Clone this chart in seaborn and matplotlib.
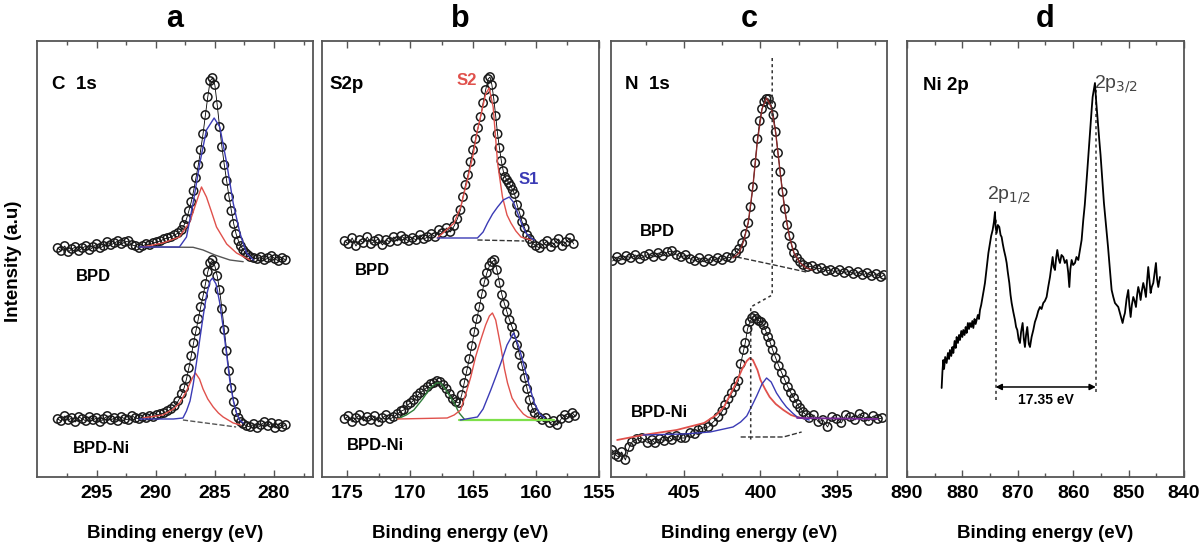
# XPS spectra of BPD and BPD-Ni: C 1s, S 2p, N 1s and Ni 2p regions

import numpy as np
import pandas as pd
import matplotlib.pyplot as plt
import seaborn as sns

sns.set_style("white")
plt.rcParams["font.family"] = ["Liberation Sans", "DejaVu Sans"]
plt.rcParams.update({"text.color": "black", "axes.labelcolor": "black",
                     "xtick.color": "black"})

RED = "#e0514c"
BLUE = "#3b3bb5"

# === Panel a: C 1s ===
a_bpd_ev = [298.3, 298.0, 297.7, 297.4, 297.1, 296.8, 296.5, 296.2, 295.9, 295.6, 295.3, 295.0,
            294.7, 294.4, 294.1, 293.8, 293.5, 293.2, 292.9, 292.6, 292.3, 292.0, 291.7, 291.4,
            291.1, 290.8, 290.5, 290.2, 289.9, 289.6, 289.3, 289.0, 288.7, 288.4, 288.1, 287.8,
            287.6, 287.4, 287.2, 287.0, 286.8, 286.6, 286.4, 286.2, 286.0, 285.8, 285.6, 285.4,
            285.2, 285.0, 284.8, 284.6, 284.4, 284.2, 284.0, 283.8, 283.6, 283.4, 283.2, 283.0,
            282.8, 282.6, 282.4, 282.2, 282.0, 281.7, 281.4, 281.1, 280.8, 280.5, 280.2, 279.9,
            279.6, 279.3, 279.0]
a_bpd_int = [229, 226, 231, 225, 228, 230, 226, 229, 231, 227, 230, 233,
             229, 231, 235, 232, 234, 236, 233, 235, 236, 232, 231, 229,
             231, 233, 232, 234, 235, 236, 238, 239, 240, 242, 244, 247,
             252, 258, 266, 275, 286, 299, 312, 327, 343, 362, 380, 396,
             399, 392, 372, 350, 330, 312, 296, 280, 266, 253, 243, 236,
             231, 227, 224, 222, 220, 219, 218, 220, 217, 219, 221, 218,
             216, 219, 217]
a_bpd_blue_ev = [291.4, 288.0, 287.4, 286.84, 286.27, 285.71, 285.06, 284.58, 284.0, 283.45,
                 282.88, 282.32, 281.75]
a_bpd_blue_int = [230, 230, 240, 274, 314, 347, 359, 350, 314, 274, 244, 224, 217]
a_bpd_red_ev = [291.1, 289.4, 288.0, 287.12, 286.56, 286.13, 285.71, 285.28, 284.86, 284.0,
                283.17, 282.04]
a_bpd_red_int = [230, 234, 240, 255, 275, 290, 280, 265, 250, 233, 224, 217]
a_bpd_bg_ev = [291.4, 286.84, 286.0, 285.0, 283.73, 282.6]
a_bpd_bg_int = [230, 229.7, 227, 222, 217, 215.3]

a_ni_ev = [298.3, 298.0, 297.7, 297.4, 297.1, 296.8, 296.5, 296.2, 295.9, 295.6, 295.3, 295.0,
           294.7, 294.4, 294.1, 293.8, 293.5, 293.2, 292.9, 292.6, 292.3, 292.0, 291.7, 291.4,
           291.1, 290.8, 290.5, 290.2, 289.9, 289.6, 289.3, 289.0, 288.7, 288.4, 288.1, 287.8,
           287.6, 287.4, 287.2, 287.0, 286.8, 286.6, 286.4, 286.2, 286.0, 285.8, 285.6, 285.4,
           285.2, 285.0, 284.8, 284.6, 284.4, 284.2, 284.0, 283.8, 283.6, 283.4, 283.2, 283.0,
           282.8, 282.6, 282.3, 282.0, 281.7, 281.4, 281.1, 280.8, 280.5, 280.2, 279.9, 279.6,
           279.3, 279.0]
a_ni_int = [58, 56, 61, 57, 59, 55, 60, 58, 56, 60, 57, 59,
            55, 58, 61, 57, 59, 56, 60, 58, 57, 61, 59, 58,
            60, 59, 61, 60, 62, 63, 64, 66, 68, 71, 76, 83,
            89, 98, 109, 121, 134, 146, 158, 170, 181, 193, 205, 214,
            217, 211, 201, 187, 168, 147, 126, 106, 89, 75, 65, 59,
            55, 53, 51, 50, 53, 49, 52, 55, 51, 54, 49, 53,
            50, 52]
a_ni_blue_ev = [291.4, 288.5, 287.7, 287.4, 287.1, 286.84, 286.56, 286.27, 286.0, 285.7, 285.4,
                285.2, 284.9, 284.6, 284.3, 284.0, 283.73, 283.45, 283.17, 282.9, 282.6]
a_ni_blue_int = [58, 58, 59, 66, 76, 92, 114, 138, 160, 182, 196, 199, 193, 175, 150, 122, 96,
                 77, 64, 57, 54]
a_ni_red_ev = [291.1, 289.4, 288.5, 287.97, 287.4, 286.9, 286.64, 286.3, 286.0, 285.6, 285.14,
               284.7, 284.3, 283.45, 282.8]
a_ni_red_int = [59, 62, 68, 74, 86, 99, 104, 98, 88, 78, 70, 64, 60, 54, 52]
a_ni_bg_ev = [287.7, 283.2]
a_ni_bg_int = [57, 50]

# === Panel b: S 2p ===
b_bpd_ev = [175.2, 174.9, 174.6, 174.3, 174.0, 173.7, 173.4, 173.1, 172.8, 172.5, 172.2, 171.9,
            171.6, 171.3, 171.0, 170.7, 170.4, 170.1, 169.8, 169.5, 169.2, 168.9, 168.6, 168.3,
            168.0, 167.7, 167.4, 167.1, 166.8, 166.5, 166.25, 166.0, 165.8, 165.6, 165.4, 165.2,
            165.0, 164.8, 164.6, 164.4, 164.2, 164.0, 163.8, 163.65, 163.5, 163.35, 163.2, 163.05,
            162.9, 162.75, 162.6, 162.45, 162.3, 162.15, 162.0, 161.85, 161.7, 161.5, 161.3, 161.1,
            160.9, 160.7, 160.5, 160.3, 160.0, 159.7, 159.4, 159.1, 158.8, 158.5, 158.2, 157.9,
            157.6, 157.3, 157.0]
b_bpd_int = [236, 233, 239, 231, 237, 234, 240, 233, 236, 238, 232, 237,
             235, 240, 236, 241, 238, 236, 239, 237, 242, 238, 240, 243,
             240, 247, 244, 249, 245, 251, 258, 267, 280, 292, 302, 315,
             327, 338, 349, 360, 374, 387, 398, 400, 392, 378, 361, 343,
             329, 316, 306, 300, 297, 294, 291, 287, 283, 272, 264, 255,
             249, 242, 238, 234, 231, 229, 233, 236, 230, 234, 238, 231,
             235, 239, 233]
b_bpd_red_ev = [167.84, 166.5, 165.98, 165.45, 165.0, 164.65, 164.3, 164.0, 163.72, 163.4,
                163.05, 162.66, 162.3, 161.99, 161.6, 161.19, 160.4]
b_bpd_red_int = [239, 254, 270, 297, 322, 347, 366, 383, 389, 370, 314, 280, 262, 254, 246,
                 240, 237]
b_bpd_blue_ev = [167.84, 164.65, 164.2, 163.85, 163.45, 163.05, 162.6, 162.12, 161.8, 161.46,
                 161.1, 160.8, 160.4, 160.13]
b_bpd_blue_int = [239, 239, 245, 254, 263, 270, 277, 280, 275, 264, 252, 244, 239, 237]
b_bpd_bg_ev = [164.65, 160.93]
b_bpd_bg_int = [237, 236]

b_ni_ev = [175.2, 174.9, 174.6, 174.3, 174.0, 173.7, 173.4, 173.1, 172.8, 172.5, 172.2, 171.9,
           171.6, 171.3, 171.0, 170.7, 170.5, 170.2, 169.95, 169.7, 169.45, 169.2, 168.9, 168.6,
           168.35, 168.1, 167.85, 167.6, 167.35, 167.1, 166.85, 166.6, 166.35, 166.1, 165.9, 165.7,
           165.5, 165.3, 165.1, 164.9, 164.7, 164.5, 164.3, 164.1, 163.9, 163.7, 163.5, 163.3,
           163.1, 162.9, 162.7, 162.5, 162.3, 162.1, 161.9, 161.7, 161.5, 161.3, 161.1, 160.9,
           160.7, 160.5, 160.3, 160.1, 159.8, 159.5, 159.2, 158.9, 158.6, 158.3, 158.0, 157.7,
           157.4, 157.1, 156.9]
b_ni_int = [58, 61, 55, 59, 62, 56, 60, 57, 61, 55, 59, 62,
            58, 60, 63, 66, 67, 72, 74, 77, 81, 84, 87, 90,
            93, 94, 96, 95, 92, 88, 83, 78, 75, 74, 82, 94,
            106, 118, 131, 145, 158, 170, 183, 195, 204, 211, 215, 217,
            207, 194, 182, 173, 165, 157, 150, 143, 132, 122, 111, 99,
            88, 77, 69, 64, 60, 57, 59, 54, 56, 52, 58, 62,
            59, 64, 61]
b_ni_red_ev = [171.0, 167.05, 166.5, 165.98, 165.6, 165.18, 164.8, 164.39, 164.0, 163.7, 163.46,
               163.2, 162.79, 162.5, 162.26, 161.9, 161.46, 161.0, 160.66, 160.0]
b_ni_red_int = [58, 59, 62, 67, 82, 100, 120, 137, 152, 161, 164, 157, 130, 108, 94, 79, 70, 63,
                60, 58]
b_ni_blue_ev = [166.0, 164.65, 164.2, 163.59, 163.2, 162.79, 162.3, 161.78, 161.35, 160.93,
                160.5, 160.13, 159.7, 159.33]
b_ni_blue_int = [57, 60, 68, 87, 100, 114, 132, 144, 130, 110, 90, 74, 63, 59]
b_ni_green_ev = [171.0, 170.3, 169.7, 169.0, 168.4, 167.9, 167.58, 167.2, 166.8, 166.5, 166.1,
                 165.7]
b_ni_green_int = [58, 62, 67, 78, 89, 94, 94, 88, 80, 74, 64, 58]
b_ni_bg_ev = [166.1, 158.6]
b_ni_bg_int = [57, 57]

# === Panel c: N 1s ===
c_bpd_ev = [409.7, 409.4, 409.1, 408.8, 408.5, 408.2, 407.9, 407.6, 407.3, 407.0, 406.7, 406.4,
            406.1, 405.8, 405.5, 405.2, 404.9, 404.6, 404.3, 404.0, 403.7, 403.4, 403.1, 402.8,
            402.5, 402.2, 401.9, 401.6, 401.4, 401.2, 401.0, 400.8, 400.65, 400.5, 400.35, 400.2,
            400.05, 399.9, 399.75, 399.6, 399.45, 399.3, 399.15, 399.0, 398.85, 398.7, 398.55,
            398.4, 398.25, 398.1, 397.95, 397.8, 397.6, 397.4, 397.2, 396.9, 396.6, 396.3, 396.0,
            395.7, 395.4, 395.1, 394.8, 394.5, 394.2, 393.9, 393.6, 393.3, 393.0, 392.7, 392.4,
            392.1, 391.9]
c_bpd_int = [216, 220, 217, 221, 219, 222, 218, 221, 223, 220, 224, 221,
             225, 226, 222, 220, 222, 218, 216, 219, 215, 218, 216, 219,
             217, 220, 219, 224, 228, 234, 243, 254, 270, 290, 314, 338,
             356, 368, 375, 378, 378, 372, 362, 345, 324, 305, 285,
             268, 252, 241, 231, 224, 219, 215, 212, 210, 211, 208, 209,
             206, 207, 205, 207, 204, 206, 203, 205, 202, 204, 201, 203,
             200, 202]
c_bpd_fit_ev = [401.8, 401.4, 401.1, 400.8, 400.5, 400.2, 399.9, 399.6, 399.3, 399.0, 398.7,
                398.4, 398.1, 397.8, 397.4, 397.0, 396.6]
c_bpd_fit_int = [219, 224, 236, 255, 290, 336, 368, 379, 370, 344, 303, 266, 240, 224, 214, 209,
                 207]
c_bpd_bg_ev = [401.56, 399.4, 397.0]
c_bpd_bg_int = [220, 213, 205]

c_ni_ev = [409.73, 409.5, 409.31, 409.1, 408.86, 408.6, 408.42, 408.1, 407.76, 407.4, 407.1,
           406.9, 406.6, 406.3, 406.0, 405.8, 405.5, 405.2, 404.93, 404.6, 404.3, 404.07, 403.8,
           403.41, 403.1, 402.76, 402.5, 402.32, 402.1, 401.88, 401.65, 401.45, 401.3, 401.1,
           401.0, 400.85, 400.7, 400.55, 400.4, 400.25, 400.1, 399.95, 399.8, 399.65, 399.5,
           399.35, 399.2, 399.0, 398.8, 398.6, 398.4, 398.2, 398.0, 397.8, 397.6, 397.4, 397.2,
           397.0, 396.8, 396.5, 396.2, 395.9, 395.6, 395.3, 395.0, 394.7, 394.4, 394.1, 393.8,
           393.5, 393.2, 392.9, 392.6, 392.3, 392.0]
c_ni_int = [27, 22, 20, 25, 17, 30, 35, 38, 39, 34, 37,
            34, 38, 36, 40, 37, 41, 39, 39, 44, 43, 47, 49,
            50, 55, 60, 66, 72, 78, 84, 90, 96, 113, 127,
            134, 148, 155, 159, 161, 158, 156, 155, 152, 146, 140,
            134, 127, 119, 111, 104, 97, 90, 84, 79, 73, 69, 65,
            62, 59, 62, 55, 57, 50, 60, 58, 54, 62, 60, 57,
            63, 60, 56, 61, 58, 59]
c_ni_red_ev = [409.4, 407.7, 405.5, 403.7, 402.9, 402.4, 402.0, 401.6, 401.2, 400.9, 400.7,
               400.5, 400.2, 400.0, 399.7, 399.4, 399.0, 398.5, 398.0, 397.6, 397.0]
c_ni_red_int = [37, 42, 47, 54, 62, 70, 82, 94, 108, 116, 119, 117, 107, 97, 88, 80, 73, 67, 62,
                60, 58]
c_ni_blue_ev = [407.7, 405.0, 403.3, 401.8, 401.3, 400.9, 400.6, 400.25, 399.9, 399.6, 399.3,
                398.95, 398.6, 398.3, 397.9, 397.6, 396.8]
c_ni_blue_int = [42, 43, 45, 50, 55, 61, 70, 81, 93, 99, 95, 84, 76, 70, 64, 60, 57]
c_ni_purple_ev = [397.6, 392.3]
c_ni_purple_int = [59, 58]
c_ni_bg_ev = [401.3, 398.5, 397.3]
c_ni_bg_int = [40, 40, 45]
c_guide_ev = [399.23, 399.23, 400.64, 400.64]
c_guide_int = [419, 182, 170, 36]

# === Panel d: Ni 2p ===
d_ev = [883.74, 883.6, 883.44, 883.3, 883.1, 882.84, 882.6, 882.4, 882.24, 882.0, 881.8, 881.63,
        881.4, 881.2, 881.03, 880.8, 880.6, 880.43, 880.2, 880.0, 879.83, 879.6, 879.4, 879.23,
        879.0, 878.8, 878.62, 878.4, 878.2, 878.02, 877.8, 877.6, 877.42, 877.2, 877.0, 876.82,
        876.6, 876.34, 876.1, 875.92, 875.7, 875.5, 875.3, 875.01, 874.8, 874.53, 874.3, 874.11,
        874.0, 873.81, 873.6, 873.33, 873.1, 872.91, 872.7, 872.49, 872.2, 872.0, 871.8, 871.52,
        871.3, 871.1, 870.8, 870.5, 870.3, 870.08, 869.85, 869.6, 869.4, 869.12, 868.9, 868.7,
        868.5, 868.28, 868.0, 867.79, 867.5, 867.19, 866.9, 866.59, 866.3, 865.99, 865.7, 865.39,
        865.1, 864.79, 864.5, 864.18, 863.9, 863.7, 863.5, 863.28, 863.05, 862.86, 862.6, 862.38,
        862.1, 861.78, 861.5, 861.17, 860.9, 860.69, 860.5, 860.27, 860.0, 859.67, 859.4, 859.07,
        858.8, 858.47, 858.17, 857.9, 857.69, 857.5, 857.27, 857.05, 856.84, 856.65, 856.48,
        856.25, 856.06, 855.9, 855.76, 855.5, 855.28, 855.05, 854.86, 854.65, 854.44, 854.2,
        853.96, 853.7, 853.47, 853.25, 853.05, 852.75, 852.45, 852.15, 851.85, 851.45, 851.07,
        850.85, 850.65, 850.35, 850.05, 849.85, 849.62, 849.4, 849.14, 848.9, 848.66, 848.45,
        848.24, 848.0, 847.82, 847.6, 847.34, 847.1, 846.86, 846.65, 846.44, 846.2, 846.01,
        845.8, 845.53, 845.3, 845.05, 844.85, 844.63, 844.45, 844.33]
d_int = [89, 105, 117, 108, 120, 114, 124, 118, 127, 121, 130, 124,
         136, 129, 140, 134, 142, 137, 146, 140, 147, 142, 150, 144,
         154, 148, 154, 150, 156, 149, 158, 153, 157, 162, 158, 167,
         172, 180, 188, 194, 205, 214, 224, 234, 241, 247, 255, 265,
         250, 244, 252, 250, 242, 240, 233, 227, 220, 214, 205, 194,
         182, 174, 165, 157, 150, 147, 138, 134, 145, 154, 138, 130,
         142, 150, 133, 130, 140, 147, 155, 160, 166, 170, 168, 174,
         176, 180, 190, 200, 212, 220, 210, 207, 220, 227, 218, 214,
         222, 220, 214, 217, 205, 190, 208, 217, 212, 214, 220, 217,
         226, 237, 257, 272, 287, 302, 320, 337, 354, 368, 380,
         388, 394, 380, 370, 352, 337, 322, 307, 290, 274, 260,
         247, 230, 214, 200, 187, 180, 174, 172, 170, 162, 154,
         160, 164, 178, 187, 172, 160, 172, 180, 176, 170, 182,
         190, 184, 177, 186, 194, 188, 180, 196, 210, 195, 184,
         190, 194, 204, 214, 198, 190, 196, 200]
d_peak_ev = [874.0, 855.9]
d_peak_top = [260, 387]
d_peak_bottom = [77, 85]
d_split_label = "17.35 eV"


def draw_points(ax, ev, inten):
    sns.lineplot(x=ev, y=inten, ax=ax, color="black", lw=0.6, sort=False, estimator=None)
    sns.scatterplot(x=ev, y=inten, ax=ax, marker="o", s=36, facecolor="none",
                    edgecolor="#1a1a1a", linewidth=1.1, zorder=2)


def draw_curve(ax, ev, inten, color, ls="-", lw=1.0):
    sns.lineplot(x=ev, y=inten, ax=ax, color=color, lw=lw, linestyle=ls,
                 sort=False, estimator=None, zorder=3)


def style_axis(ax, xlim, major, minor, letter):
    ax.set_xlim(*xlim)
    ax.set_ylim(0, 436)
    ax.set_xticks(major)
    ax.set_xticks(minor, minor=True)
    ax.set_yticks([])
    ax.tick_params(axis="x", which="both", direction="in", top=True, bottom=True,
                   color="#555555", width=1.0, pad=6)
    ax.tick_params(axis="x", which="major", length=5)
    ax.tick_params(axis="x", which="minor", length=3)
    for lab in ax.get_xticklabels():
        lab.set_fontsize(14)
        lab.set_fontweight("bold")
    for sp in ax.spines.values():
        sp.set_color("#555555")
        sp.set_linewidth(1.3)
    ax.set_xlabel("Binding energy (eV)", fontsize=13.5, fontweight="bold", labelpad=16)
    ax.set_ylabel("")
    ax.set_title(letter, fontsize=22, fontweight="bold", pad=10)


fig = plt.figure(figsize=(12, 5.46), dpi=100)
ax_a = fig.add_axes([0.0308, 0.1264, 0.2300, 0.7985])
ax_b = fig.add_axes([0.2683, 0.1264, 0.2308, 0.7985])
ax_c = fig.add_axes([0.5092, 0.1264, 0.2300, 0.7985])
ax_d = fig.add_axes([0.7558, 0.1264, 0.2308, 0.7985])

lab_kw = dict(fontsize=12, fontweight="bold", va="center")
head_kw = dict(fontsize=13.5, fontweight="bold", va="center")

# --- a ---
draw_points(ax_a, a_bpd_ev, a_bpd_int)
draw_curve(ax_a, a_bpd_bg_ev, a_bpd_bg_int, "#555555")
draw_curve(ax_a, a_bpd_red_ev, a_bpd_red_int, RED)
draw_curve(ax_a, a_bpd_blue_ev, a_bpd_blue_int, BLUE)
draw_points(ax_a, a_ni_ev, a_ni_int)
draw_curve(ax_a, a_ni_bg_ev, a_ni_bg_int, "#555555", ls="--")
draw_curve(ax_a, a_ni_red_ev, a_ni_red_int, RED)
draw_curve(ax_a, a_ni_blue_ev, a_ni_blue_int, BLUE)
ax_a.text(298.8, 393, "C  1s", **head_kw)
ax_a.text(295.3, 200, "BPD", ha="center", **lab_kw)
ax_a.text(294.6, 28, "BPD-Ni", ha="center", **lab_kw)
style_axis(ax_a, (300.05, 276.7), [295, 290, 285, 280],
           [297.5, 292.5, 287.5, 282.5, 277.5], "a")

# --- b ---
draw_points(ax_b, b_bpd_ev, b_bpd_int)
draw_curve(ax_b, b_bpd_bg_ev, b_bpd_bg_int, "#333333", ls="--")
draw_curve(ax_b, b_bpd_red_ev, b_bpd_red_int, RED)
draw_curve(ax_b, b_bpd_blue_ev, b_bpd_blue_int, BLUE)
draw_points(ax_b, b_ni_ev, b_ni_int)
draw_curve(ax_b, b_ni_bg_ev, b_ni_bg_int, "#7ee04a", lw=1.6)
draw_curve(ax_b, b_ni_green_ev, b_ni_green_int, "#2f7d3a")
draw_curve(ax_b, b_ni_red_ev, b_ni_red_int, RED)
draw_curve(ax_b, b_ni_blue_ev, b_ni_blue_int, BLUE)
ax_b.text(176.4, 393, "S2p", **head_kw)
ax_b.text(165.5, 397, "S2", color=RED, ha="center", **lab_kw)
ax_b.text(160.55, 297, "S1", color=BLUE, ha="center", **lab_kw)
ax_b.text(174.4, 206, "BPD", ha="left", **lab_kw)
ax_b.text(175.0, 31, "BPD-Ni", ha="left", **lab_kw)
style_axis(ax_b, (177.0, 155.0), [175, 170, 165, 160, 155],
           [172.5, 167.5, 162.5, 157.5], "b")

# --- c ---
draw_points(ax_c, c_bpd_ev, c_bpd_int)
draw_curve(ax_c, c_bpd_fit_ev, c_bpd_fit_int, "#8a2a2a")
draw_curve(ax_c, c_bpd_bg_ev, c_bpd_bg_int, "#333333", ls="--")
draw_points(ax_c, c_ni_ev, c_ni_int)
draw_curve(ax_c, c_ni_red_ev, c_ni_red_int, RED, lw=1.3)
draw_curve(ax_c, c_ni_blue_ev, c_ni_blue_int, BLUE)
draw_curve(ax_c, c_ni_purple_ev, c_ni_purple_int, "#7a2a9a", lw=1.3)
draw_curve(ax_c, c_ni_bg_ev, c_ni_bg_int, "#333333", ls="--")
draw_curve(ax_c, c_guide_ev, c_guide_int, "#333333", ls=(0, (2, 2)), lw=1.1)
ax_c.text(408.86, 393, "N  1s", **head_kw)
ax_c.text(407.9, 245, "BPD", ha="left", **lab_kw)
ax_c.text(408.5, 64, "BPD-Ni", ha="left", **lab_kw)
style_axis(ax_c, (409.8, 391.7), [405, 400, 395],
           [407.5, 402.5, 397.5, 392.5], "c")

# --- d ---
draw_curve(ax_d, d_ev, d_int, "black", lw=1.3)
for ev, top, bot in zip(d_peak_ev, d_peak_top, d_peak_bottom):
    ax_d.plot([ev, ev], [bot, top], color="#333333", ls=(0, (2, 2)), lw=1.1)
ax_d.annotate("", xy=(d_peak_ev[1], 90), xytext=(d_peak_ev[0], 90),
              arrowprops=dict(arrowstyle="<|-|>", color="black", lw=1.1,
                              mutation_scale=9, shrinkA=0, shrinkB=0))
ax_d.text(np.mean(d_peak_ev), 77, d_split_label, ha="center", va="center",
          fontsize=10, fontweight="bold")
ax_d.text(887.1, 392, "Ni 2p", **head_kw)
ax_d.text(875.6, 282, r"2p$_{1/2}$", fontsize=14, color="#444444", va="center")
ax_d.text(856.2, 393, r"2p$_{3/2}$", fontsize=14, color="#444444", va="center")
style_axis(ax_d, (890, 840), [890, 880, 870, 860, 850, 840],
           [885, 875, 865, 855, 845], "d")

fig.text(0.011, 0.522, "Intensity (a.u)", rotation=90, ha="center", va="center",
         fontsize=13.5, fontweight="bold")

plt.savefig("out.png", dpi=100)
